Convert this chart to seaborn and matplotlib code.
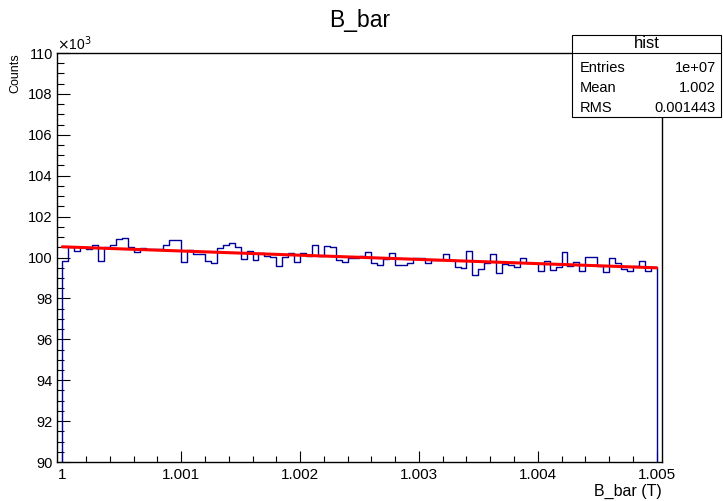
import numpy as np
import pandas as pd
import matplotlib
matplotlib.use("Agg")
import matplotlib.pyplot as plt
from matplotlib.patches import Rectangle
from matplotlib.ticker import MultipleLocator, FuncFormatter
import seaborn as sns

# histogram range and bin contents
bin_low = 1.0
bin_high = 1.005
bin_counts = [
    99853, 100538, 100342, 100538, 100408, 100619, 99853, 100505, 100636, 100913,
    100945, 100538, 100277, 100456, 100400, 100400, 100400, 100636, 100864, 100864,
    99772, 100375, 100179, 100179, 99812, 99723, 100456, 100619, 100701, 100505,
    99935, 100310, 99886, 100212, 100098, 100049, 99592, 100016, 100212, 99772,
    100212, 100098, 100619, 100098, 100587, 100538, 99886, 99804, 99967, 99967,
    100098, 100293, 99723, 99625, 99935, 100212, 99625, 99658, 99723, 99967,
    99967, 99756, 99886, 99886, 100179, 99886, 99560, 99495, 100342, 99169,
    99446, 99723, 100179, 99250, 99690, 99658, 99560, 99984, 99723, 99723,
    99364, 99853, 99413, 99527, 100293, 99592, 99804, 99332, 100049, 100049,
    99576, 99283, 99967, 99723, 99462, 99332, 99592, 99853, 99332, 99527,
]
stat_names = ["Entries", "Mean", "RMS"]
stat_values = ["1e+07", "1.002", "0.001443"]

sns.set_style("ticks")
plt.rcParams['font.family'] = ['Liberation Sans', 'DejaVu Sans']
plt.rcParams['text.color'] = 'black'
plt.rcParams['axes.labelcolor'] = 'black'
plt.rcParams['xtick.color'] = 'black'
plt.rcParams['ytick.color'] = 'black'

n_bins = len(bin_counts)
edges = np.linspace(bin_low, bin_high, n_bins + 1)
width = edges[1] - edges[0]
# ROOT-like: empty bin on each side so the outline drops at the edges
all_edges = np.concatenate([[bin_low - width], edges, [bin_high + width]])
hist_df = pd.DataFrame({
    "center": (all_edges[:-1] + all_edges[1:]) / 2,
    "count": np.concatenate([[0], bin_counts, [0]]),
})

fig = plt.figure(figsize=(7.23, 5.01), dpi=100)
ax = fig.add_axes([0.0788, 0.0778, 0.8368, 0.8164])

sns.histplot(data=hist_df, x="center", weights="count", bins=n_bins + 2,
             binrange=(all_edges[0], all_edges[-1]), element="step",
             fill=False, color="#000099", linewidth=1.0, ax=ax)

# linear fit
bin_centers = (edges[:-1] + edges[1:]) / 2
coef = np.polyfit(bin_centers - bin_low, bin_counts, 1)
fit_y = np.polyval(coef, edges - bin_low)
sns.lineplot(x=edges, y=fit_y, color="red", linewidth=2.2, ax=ax)

ax.set_xlim(0.999955, 1.005045)
ax.set_ylim(90000, 110000)

ax.xaxis.set_major_locator(MultipleLocator(0.001))
ax.xaxis.set_minor_locator(MultipleLocator(0.0002))
ax.yaxis.set_major_locator(MultipleLocator(2000))
ax.yaxis.set_minor_locator(MultipleLocator(500))
ax.xaxis.set_major_formatter(FuncFormatter(lambda v, p: f"{v:g}"))
ax.yaxis.set_major_formatter(FuncFormatter(lambda v, p: f"{v / 1000:g}"))

ax.tick_params(axis='both', which='both', direction='in', top=False, right=False,
               labelsize=11, width=0.8, color='black')
ax.tick_params(axis='y', which='major', length=9, pad=3, labelsize=10.5)
ax.tick_params(axis='y', which='minor', length=5)
ax.tick_params(axis='x', which='major', length=8, pad=4)
ax.tick_params(axis='x', which='minor', length=4)
for s in ax.spines.values():
    s.set_color('black')
    s.set_linewidth(1.0)

ax.set_ylabel("Counts", loc='top', fontsize=9, labelpad=5)
ax.set_xlabel("B_bar (T)", loc='right', fontsize=11.5, labelpad=1.5)
ax.text(0.0, 1.0, r"$\times$10$^{3}$", transform=ax.transAxes, fontsize=10,
        ha='left', va='bottom')
fig.text(0.497, 0.96, "B_bar", ha='center', va='center', fontsize=16.5)

# stats box
bx0, bx1 = 572 / 723, 721 / 723
by0, by1 = 1 - 117 / 501, 1 - 35 / 501
fig.patches.append(Rectangle((bx0, by0), bx1 - bx0, by1 - by0, transform=fig.transFigure,
                             facecolor='white', edgecolor='black', linewidth=0.8, zorder=5))
hy = 1 - 53 / 501
fig.add_artist(plt.Line2D([bx0, bx1], [hy, hy], transform=fig.transFigure,
                          color='black', linewidth=0.8, zorder=6))
fig.text((bx0 + bx1) / 2, 1 - 44 / 501, "hist", ha='center', va='center',
         fontsize=12, zorder=7)
for i, (name, val) in enumerate(zip(stat_names, stat_values)):
    yy = 1 - (68 + 20 * i) / 501
    fig.text(580 / 723, yy, name, ha='left', va='center', fontsize=10.5, zorder=7)
    fig.text(716 / 723, yy, val, ha='right', va='center', fontsize=10.5, zorder=7)

fig.savefig("out.png", dpi=100)
